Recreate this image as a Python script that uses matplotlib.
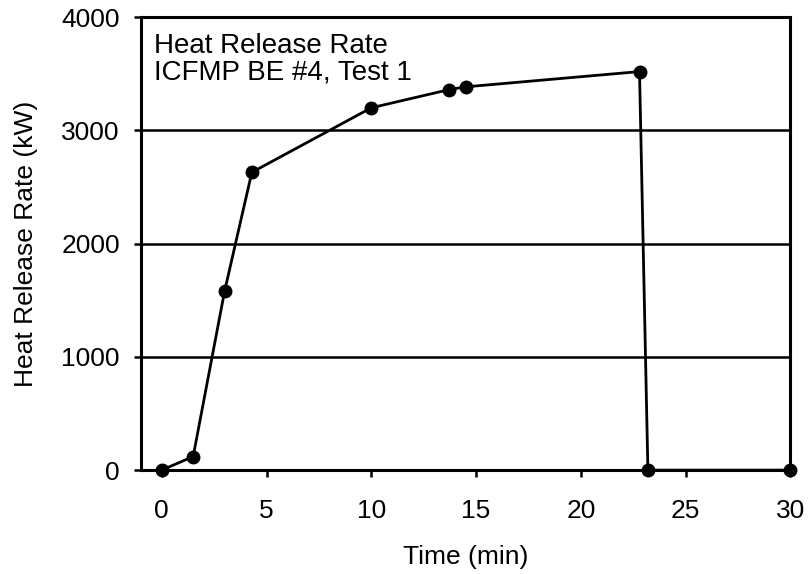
import numpy as np
import matplotlib
matplotlib.use("Agg")
import matplotlib.pyplot as plt

# data
time_min = [0, 1.5, 3.0, 4.3, 10.0, 13.7, 14.5, 22.8, 23.2, 30.0]
hrr_kw = [0, 120, 1580, 2630, 3200, 3360, 3385, 3520, 0, 0]
x_ticks = [0, 5, 10, 15, 20, 25, 30]
y_ticks = [0, 1000, 2000, 3000, 4000]

plt.rcParams['font.family'] = ['Liberation Sans', 'DejaVu Sans']

fig = plt.figure(figsize=(8.09, 5.74), dpi=100)
ax = fig.add_axes([0.174, 0.181, 0.803, 0.789])

# horizontal grid lines
for y in y_ticks[1:-1]:
    ax.axhline(y, color="black", linewidth=1.8, zorder=1)

ax.plot(time_min, hrr_kw, color="black", linewidth=2.0, marker="o",
        markersize=9, zorder=3, clip_on=False)

ax.set_xlim(-1, 30)
ax.set_ylim(0, 4000)
ax.set_xticks(x_ticks)
ax.set_yticks(y_ticks)
ax.tick_params(direction="out", length=5, width=1.8, labelsize=19, pad=10)
ax.tick_params(axis="x", pad=16)

for s in ax.spines.values():
    s.set_linewidth(2.2)

ax.set_xlabel("Time (min)", fontsize=19, labelpad=16)
ax.set_ylabel("Heat Release Rate (kW)", fontsize=19, labelpad=17)

ax.text(0.02, 0.965, "Heat Release Rate\nICFMP BE #4, Test 1", transform=ax.transAxes,
        fontsize=20, va="top", ha="left", linespacing=1.0)

fig.savefig("out.png", dpi=100)
